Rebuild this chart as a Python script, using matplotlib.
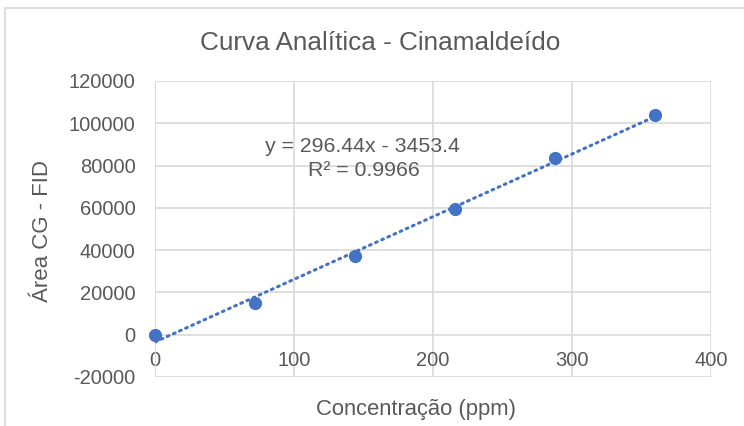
import numpy as np
import matplotlib
matplotlib.use("Agg")
import matplotlib.pyplot as plt
from matplotlib.patches import Rectangle

conc = [0, 72, 144, 216, 288, 360]
area = [0, 15100, 37400, 59600, 83600, 104000]
title = "Curva Analítica - Cinamaldeído"
xlabel = "Concentração (ppm)"
ylabel = "Área CG - FID"
eq_text = "y = 296.44x - 3453.4"
r2_text = "R² = 0.9966"
slope, intercept = 296.44, -3453.4

plt.rcParams['font.family'] = ['Liberation Sans', 'DejaVu Sans']
plt.rcParams['axes.unicode_minus'] = False
txt = '#595959'
grid = '#d9d9d9'
blue = '#4472C4'

W, H = 744, 426
fig = plt.figure(figsize=(W/100, H/100), dpi=100)
fig.patch.set_facecolor('white')
fig.patches.append(Rectangle((5/W, -0.05), 1.2, 1 - 8/H + 0.05, transform=fig.transFigure,
                             fill=False, edgecolor='#d9d9d9', linewidth=1.2))

ax = fig.add_axes([155/W, 1 - 377/H, (711-155)/W, (377-81)/H])
ax.set_xlim(0, 400)
ax.set_ylim(-20000, 120000)
ax.set_xticks(np.arange(0, 401, 100))
ax.set_yticks(np.arange(-20000, 120001, 20000))
ax.grid(True, color=grid, linewidth=1.2)
ax.set_axisbelow(True)
for s in ['top', 'right', 'left']:
    ax.spines[s].set_visible(False)
ax.spines['bottom'].set_position(('data', 0))
ax.spines['bottom'].set_visible(False)
ax.axvline(0, color=grid, linewidth=1.4, zorder=1)
ax.tick_params(axis='both', length=0, labelsize=14.5, labelcolor=txt)
ax.tick_params(axis='x', pad=11.5)
ax.tick_params(axis='y', pad=14)

xs = np.array([min(conc), max(conc)])
ax.plot(xs, slope*xs + intercept, linestyle=(0, (0.6, 1.6)), color=blue,
        linewidth=2.2, dash_capstyle='round', zorder=2)
ax.plot(conc, area, 'o', color=blue, markersize=8.5, zorder=3, clip_on=False)

fig.text(380/W, 1 - 43/H, title, ha='center', va='center', fontsize=18.8, color=txt)
fig.text(416/W, 1 - 409/H, xlabel, ha='center', va='center', fontsize=15.8, color=txt)
fig.text(42/W, 1 - 231/H, ylabel, ha='center', va='center', rotation=90, fontsize=16, color=txt)
fig.text(362/W, 1 - 146/H, eq_text, ha='center', va='center', fontsize=15.3, color=txt)
fig.text(364/W, 1 - 171/H, r2_text, ha='center', va='center', fontsize=15.3, color=txt)

fig.savefig('out.png', dpi=100)
